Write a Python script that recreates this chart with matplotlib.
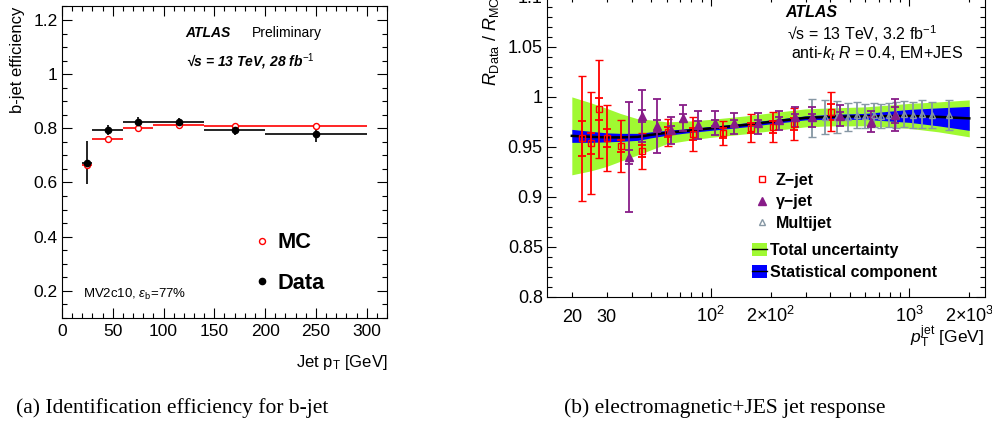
import numpy as np
import matplotlib
matplotlib.use("Agg")
import matplotlib.pyplot as plt
from matplotlib.ticker import MultipleLocator, LogLocator, FuncFormatter, FixedLocator
from matplotlib.lines import Line2D
from matplotlib.patches import Patch

plt.rcParams['font.family'] = ['Liberation Sans', 'DejaVu Sans']
plt.rcParams['mathtext.fontset'] = 'custom'
plt.rcParams['mathtext.rm'] = 'Liberation Sans'
plt.rcParams['mathtext.it'] = 'Liberation Sans:italic'
plt.rcParams['mathtext.bf'] = 'Liberation Sans:bold'

# --- (a) b-jet efficiency vs jet pT ---
bin_lo = [20, 30, 60, 90, 140, 200]
bin_hi = [30, 60, 90, 140, 200, 300]
pt_a = [25, 45, 75, 115, 170, 250]
eff_data = [0.671, 0.794, 0.824, 0.823, 0.794, 0.778]
eff_data_up = [0.081, 0.020, 0.018, 0.015, 0.020, 0.025]
eff_data_dn = [0.077, 0.020, 0.018, 0.015, 0.020, 0.030]
eff_mc = [0.665, 0.762, 0.802, 0.812, 0.810, 0.810]

xa_ticks = [0, 50, 100, 150, 200, 250, 300]
ya_ticks = [0.2, 0.4, 0.6, 0.8, 1.0, 1.2]
ya_labels = ['0.2', '0.4', '0.6', '0.8', '1', '1.2']

# --- (b) in-situ jet response ratio ---
band_pt = [20, 25, 30, 35, 43, 50, 60, 80, 100, 150, 200, 300, 400, 600, 1000, 1400, 2000]
band_mid = [0.961, 0.960, 0.9595, 0.9595, 0.960, 0.962, 0.964, 0.9665, 0.9685, 0.972,
            0.975, 0.979, 0.980, 0.9805, 0.981, 0.980, 0.9785]
band_tot = [0.039, 0.034, 0.029, 0.024, 0.018, 0.015, 0.011, 0.0095, 0.009, 0.009,
            0.009, 0.009, 0.009, 0.0095, 0.0125, 0.015, 0.0185]
band_stat = [0.0065, 0.0055, 0.0045, 0.004, 0.0035, 0.003, 0.0025, 0.002, 0.002, 0.002,
             0.002, 0.002, 0.0025, 0.003, 0.0065, 0.009, 0.012]

zjet_pt = [22.5, 25.1, 27.4, 30.0, 35.2, 45.2, 60.8, 81.5, 115, 160, 205, 262, 402]
zjet_r = [0.9584, 0.9534, 0.9877, 0.9584, 0.9507, 0.9457, 0.9644, 0.9624, 0.964,
          0.9684, 0.9694, 0.9727, 0.985]
zjet_tot = [0.0625, 0.051, 0.049, 0.033, 0.026, 0.018, 0.0135, 0.017, 0.0117,
            0.014, 0.015, 0.016, 0.0195]
zjet_stat = [0.0175, 0.0105, 0.011, 0.009, 0.006, 0.006, 0.005, 0.006, 0.005,
             0.005, 0.006, 0.006, 0.008]

gjet_pt = [38.7, 45.2, 53.8, 63.2, 72.2, 86.4, 105, 131, 172, 221, 265, 322, 446, 643, 841]
gjet_r = [0.9394, 0.981, 0.971, 0.9667, 0.9784, 0.9717, 0.9734, 0.9734, 0.9734, 0.9767,
          0.9794, 0.9794, 0.981, 0.975, 0.9817]
gjet_tot = [0.055, 0.026, 0.027, 0.0135, 0.013, 0.014, 0.012, 0.0105, 0.0105, 0.0095,
            0.010, 0.010, 0.0105, 0.0105, 0.016]
gjet_stat = [0.007, 0.006, 0.006, 0.004, 0.004, 0.004, 0.003, 0.003, 0.003, 0.003,
             0.003, 0.003, 0.004, 0.005, 0.008]

mjet_pt = [322, 375, 432, 491, 545, 595, 660, 722, 788, 858, 934, 1039, 1158, 1300, 1575]
mjet_r = [0.979, 0.980, 0.980, 0.980, 0.9815, 0.981, 0.9815, 0.981, 0.9815, 0.982,
          0.9825, 0.982, 0.983, 0.982, 0.982]
mjet_err = [0.019, 0.017, 0.016, 0.014, 0.013, 0.012, 0.012, 0.012, 0.012, 0.013,
            0.013, 0.013, 0.014, 0.013, 0.015]

yb_ticks = [0.8, 0.85, 0.9, 0.95, 1.0, 1.05, 1.1]
yb_labels = ['0.8', '0.85', '0.9', '0.95', '1', '1.05', '1.1']
xb_label_pos = [20, 30, 100, 200, 1000, 2000]
xb_labels = ['20', '30', '10$^{2}$', '2×10$^{2}$', '10$^{3}$', '2×10$^{3}$']

green = '#a0f932'
blue = '#0000ff'
purple = '#881c88'
grey = '#8697a4'

fig = plt.figure(figsize=(9.92, 4.30), dpi=100)
axA = fig.add_axes([0.0625, 0.2609, 0.3276, 0.724])
axB = fig.add_axes([547 / 992, 0.31, 438 / 992, 0.697])

# ---------------- panel (a) ----------------
pt = np.array(pt_a)
xerr_a = [pt - np.array(bin_lo), np.array(bin_hi) - pt]
axA.errorbar(pt, eff_mc, xerr=xerr_a, fmt='o', ms=4.3, mfc='white', mec='red', mew=1.0,
             ecolor='red', elinewidth=1.2, capsize=0)
axA.errorbar(pt, eff_data, xerr=xerr_a, yerr=[eff_data_dn, eff_data_up], fmt='o', ms=4.5,
             color='black', elinewidth=1.2, capsize=0)

axA.set_xlim(0, 320)
axA.set_ylim(0.1, 1.25)
axA.set_xticks(xa_ticks, [str(v) for v in xa_ticks])
axA.set_yticks(ya_ticks, ya_labels)
axA.xaxis.set_minor_locator(MultipleLocator(10))
axA.yaxis.set_minor_locator(MultipleLocator(0.05))
axA.tick_params(which='both', direction='in', top=True, right=True, width=0.8, labelsize=12.5)
axA.tick_params(which='major', length=7)
axA.tick_params(which='minor', length=3.5)
axA.tick_params(axis='y', pad=3)
axA.tick_params(axis='x', pad=4.5)
axA.set_xlabel(r'Jet p$_\mathregular{T}$ [GeV]', fontsize=12, loc='right')
axA.xaxis.set_label_coords(1.003, -0.112)
axA.set_ylabel('b-jet efficiency', fontsize=12, loc='top')
axA.yaxis.set_label_coords(-0.114, 1.0)

axA.text(0.3806, 0.914, 'ATLAS', transform=axA.transAxes, fontsize=10, fontweight='bold',
         style='italic', va='center')
axA.text(0.5855, 0.914, 'Preliminary', transform=axA.transAxes, fontsize=10, va='center')
axA.text(0.3806, 0.8227, r'√s = 13 TeV, 28 fb$^{-1}$', transform=axA.transAxes, fontsize=10,
         fontweight='bold', style='italic', va='center')
axA.text(0.0655, 0.0755, r'MV2c10, $\epsilon_{\mathrm{b}}$=77%', transform=axA.transAxes,
         fontsize=9.5, va='center')

handles_a = [Line2D([], [], marker='o', ls='none', ms=4.3, mfc='white', mec='red', mew=1.0),
             Line2D([], [], marker='o', ls='none', ms=4.5, color='black')]
axA.legend(handles_a, ['MC', 'Data'], loc='upper left', bbox_to_anchor=(0.5886, 0.2747),
           frameon=False, borderpad=0, borderaxespad=0, handlelength=0.8, handletextpad=0.29,
           labelspacing=0.895, prop={'weight': 'bold', 'size': 15.7})

# ---------------- panel (b) ----------------
bp = np.array(band_pt)
bm = np.array(band_mid)
bt = np.array(band_tot)
bs = np.array(band_stat)
axB.fill_between(bp, bm - bt, bm + bt, color=green, lw=0)
axB.fill_between(bp, bm - bs, bm + bs, color=blue, lw=0)
axB.plot(bp, bm, color='black', lw=1.8)

ekw = dict(elinewidth=1.3, capsize=2.6, capthick=1.3)
axB.errorbar(mjet_pt, mjet_r, yerr=mjet_err, fmt='^', ms=5, mfc='none', mec=grey, mew=1.0,
             ecolor=grey, **ekw)
axB.errorbar(zjet_pt, zjet_r, yerr=zjet_tot, fmt='s', ms=5, mfc='none', mec='red', mew=1.0,
             ecolor='red', **ekw)
axB.errorbar(zjet_pt, zjet_r, yerr=zjet_stat, fmt='none', ecolor='red', **ekw)
axB.errorbar(gjet_pt, gjet_r, yerr=gjet_tot, fmt='^', ms=6, color=purple, ecolor=purple, **ekw)
axB.errorbar(gjet_pt, gjet_r, yerr=gjet_stat, fmt='none', ecolor=purple, **ekw)

axB.set_xscale('log')
axB.set_xlim(15, 2400)
axB.set_ylim(0.8, 1.1)
axB.set_yticks(yb_ticks, yb_labels)
axB.yaxis.set_minor_locator(MultipleLocator(0.01))

xb_map = dict(zip(xb_label_pos, xb_labels))
axB.xaxis.set_major_locator(FixedLocator([100, 1000]))
axB.xaxis.set_minor_locator(LogLocator(base=10, subs=np.arange(2, 10), numticks=20))
fmt_b = FuncFormatter(lambda v, p: xb_map.get(int(round(v)), ''))
axB.xaxis.set_major_formatter(fmt_b)
axB.xaxis.set_minor_formatter(fmt_b)

axB.tick_params(which='both', direction='in', top=True, right=True, width=0.8, labelsize=13)
axB.tick_params(which='major', length=6.5)
axB.tick_params(which='minor', length=3.3)
axB.tick_params(axis='y', pad=3)
axB.tick_params(axis='x', which='both', pad=18)
for lab in axB.xaxis.get_majorticklabels() + axB.xaxis.get_minorticklabels():
    lab.set_va('baseline')

axB.set_xlabel(r'$p_{\mathrm{T}}^{\mathrm{jet}}$ [GeV]', fontsize=12.5, loc='right')
axB.xaxis.set_label_coords(0.9989, -0.09)
axB.set_ylabel(r'$R_{\mathrm{Data}}$ / $R_{\mathrm{MC}}$', fontsize=13, loc='top')
axB.yaxis.set_label_coords(-0.106, 1.0)

axB.text(0.5434, 0.9476, 'ATLAS', transform=axB.transAxes, fontsize=11.5, fontweight='bold',
         style='italic', va='center')
axB.text(0.548, 0.8789, r'√s = 13 TeV, 3.2 fb$^{-1}$', transform=axB.transAxes,
         fontsize=11.5, va='center')
axB.text(0.556, 0.8121, r'anti-$k_{t}$ $R$ = 0.4, EM+JES', transform=axB.transAxes,
         fontsize=11.5, va='center')

handles_b1 = [Line2D([], [], marker='s', ls='none', ms=5, mfc='none', mec='red', mew=1.0),
              Line2D([], [], marker='^', ls='none', ms=6, color=purple),
              Line2D([], [], marker='^', ls='none', ms=4.5, mfc='none', mec=grey, mew=1.0)]
leg1 = axB.legend(handles_b1, ['Z−jet', 'γ−jet', 'Multijet'], loc='upper left',
                  bbox_to_anchor=(0.4726, 0.414), frameon=False, borderpad=0, borderaxespad=0,
                  handlelength=1.0, handletextpad=0.37, labelspacing=0.42,
                  prop={'weight': 'bold', 'size': 11.5})
axB.add_artist(leg1)
handles_b2 = [(Patch(facecolor=green, lw=0), Line2D([], [], color='black', lw=1.0)),
              (Patch(facecolor=blue, lw=0), Line2D([], [], color='black', lw=1.0))]
axB.legend(handles_b2, ['Total uncertainty', 'Statistical component'], loc='upper left',
           bbox_to_anchor=(0.4674, 0.1805), frameon=False, borderpad=0, borderaxespad=0,
           handlelength=0.94, handleheight=0.94, handletextpad=0.2, labelspacing=0.43,
           prop={'weight': 'bold', 'size': 11.5})

for ax in (axA, axB):
    for sp in ax.spines.values():
        sp.set_linewidth(0.8)

# captions
fig.text(172 / 992, 1 - 408 / 430, '(a) Identification efficiency for b-jet',
         ha='center', va='center', fontsize=15.5, family='Liberation Serif')
fig.text(725 / 992, 1 - 408 / 430, '(b) electromagnetic+JES jet response',
         ha='center', va='center', fontsize=15.5, family='Liberation Serif')

fig.savefig('out.png', dpi=100)
